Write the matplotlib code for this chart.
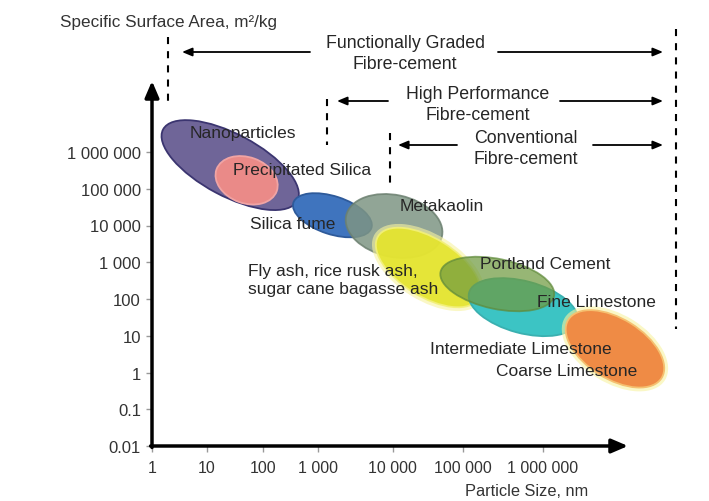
import numpy as np
import matplotlib.pyplot as plt
from matplotlib.patches import Ellipse
from matplotlib.transforms import ScaledTranslation

plt.rcParams['font.family'] = ['Liberation Sans', 'DejaVu Sans']

# axis ticks
x_ticks = [1, 10, 100, 1000, 10000, 100000, 1000000]
x_tick_labels = ['1', '10', '100', '1 000', '10 000', '100 000', '1 000 000']
y_ticks = [0.01, 0.1, 1, 10, 100, 1000, 10000, 100000, 1000000]
y_tick_labels = ['0.01', '0.1', '1', '10', '100', '1 000', '10 000', '100 000', '1 000 000']

# the drawn particle size axis is not evenly spaced per decade
x_decades = [0, 1, 2, 3, 4, 5, 6, 7, 8]
x_axis_pos = [0, 0.99, 2.0, 2.99, 4.34, 5.6, 7.04, 8.58, 10.12]

# materials: centre particle size (nm) and specific surface area (m2/kg)
materials = ['Nanoparticles', 'Precipitated Silica', 'Silica fume', 'Metakaolin',
             'Fly ash', 'Fine Limestone', 'Portland Cement', 'Coarse Limestone']
size_nm = [26, 51, 1560, 10400, 32000, 5.7e5, 2.7e5, 7.0e6]
ssa = [4.4e5, 1.7e5, 1.9e4, 9700, 720, 60, 256, 4.4]

# label texts and where they sit (particle size nm, m2/kg)
labels = ['Nanoparticles', 'Precipitated Silica', 'Silica fume', 'Metakaolin',
          'Fly ash, rice rusk ash,\nsugar cane bagasse ash', 'Portland Cement',
          'Fine Limestone', 'Intermediate Limestone', 'Coarse Limestone']
label_nm = [43, 510, 350, 5.0e4, 55, 1.06e6, 4.3e6, 5.3e5, 1.9e6]
label_ssa = [3.3e6, 3.4e5, 1.1e4, 3.4e4, 330, 900, 83, 4.4, 1.1]

zone_names = ['Functionally Graded\nFibre-cement', 'High Performance\nFibre-cement',
              'Conventional\nFibre-cement']

# ellipse drawing sizes (pixels) and styles
widths = [152, 64, 82, 98, 118, 112, 116, 110]
heights = [62, 46, 38, 62, 58, 52, 50, 60]
angles = [-28, -20, -18, -12, -32, -15, -12, -32]
fills = ['#6f6598', '#ea8a88', '#3f74be', '#7e9584', '#e4e42c', '#3cc4c4', '#6f9a40', '#ef8b45']
alphas = [1, 1, 1, 0.85, 0.92, 1, 0.72, 1]
edges = ['#3b3570', '#f0a4a4', '#2e5a9a', '#6c8070', '#f2f07a', '#3ab0b0', '#5f8a3a', '#f5c070']


def to_u(nm):
    return np.interp(np.log10(nm), x_decades, x_axis_pos)


fig = plt.figure(figsize=(7.09, 5.02), dpi=100)
ax = fig.add_axes([152 / 709, 55 / 502, 476 / 709, 365 / 502])
ax.set_facecolor('none')
ax.set_autoscale_on(False)
ax.set_xlim(0, 476 / 55.5)
ax.set_ylim(-2, -2 + 365 / 36.75)

for i in range(len(materials)):
    trans = fig.dpi_scale_trans + ScaledTranslation(to_u(size_nm[i]), np.log10(ssa[i]), ax.transData)
    if materials[i] in ('Fly ash', 'Coarse Limestone'):
        halo = Ellipse((0, 0), (widths[i] + 8) / 100, (heights[i] + 8) / 100, angle=angles[i],
                       transform=trans, facecolor='#f7f3a0', edgecolor='none', alpha=0.6,
                       zorder=2 + i, clip_on=False)
        ax.add_patch(halo)
    e = Ellipse((0, 0), widths[i] / 100, heights[i] / 100, angle=angles[i], transform=trans,
                facecolor=fills[i], edgecolor=edges[i], lw=1.3, alpha=alphas[i], zorder=2 + i,
                clip_on=False)
    ax.add_patch(e)

for i in range(len(labels)):
    ha = 'left' if labels[i].startswith('Fly') else 'center'
    ax.text(to_u(label_nm[i]), np.log10(label_ssa[i]), labels[i], ha=ha, va='center',
            fontsize=12.5, color='#262626', linespacing=1.25, zorder=20, clip_on=False)

ax.set_xticks(to_u(x_ticks))
ax.set_xticklabels(x_tick_labels)
ax.set_yticks(np.log10(y_ticks))
ax.set_yticklabels(y_tick_labels)
ax.tick_params(axis='x', direction='out', length=4, width=1, color='#999999',
               labelsize=11.5, labelcolor='#333333', pad=6)
ax.tick_params(axis='y', direction='out', length=4, width=1, color='#999999',
               labelsize=12, labelcolor='#333333', pad=4)
for s in ax.spines.values():
    s.set_visible(False)

# axis lines with arrow heads
arrow = dict(arrowstyle='-|>,head_width=0.3,head_length=0.7', lw=2.5, color='black',
             mutation_scale=14, shrinkA=0, shrinkB=0)
ax.annotate('', xy=(1, 0), xytext=(-0.003, 0), xycoords='axes fraction', arrowprops=arrow)
ax.annotate('', xy=(0, 1), xytext=(0, -0.004), xycoords='axes fraction', arrowprops=arrow)

# overlay in pixel coordinates for the zone annotations
ov = fig.add_axes([0, 0, 1, 1])
ov.set_xlim(0, 709)
ov.set_ylim(502, 0)
ov.axis('off')
ov.patch.set_visible(False)

dash = dict(color='black', lw=1.5, linestyle=(0, (3.4, 3.4)))
ov.plot([168, 168], [38, 102], **dash)
ov.plot([327, 327], [100, 146], **dash)
ov.plot([390, 390], [134, 190], **dash)
ov.plot([676, 676], [30, 330], **dash)

small = dict(arrowstyle='-|>,head_width=0.25,head_length=0.6', lw=1.3, color='black',
             mutation_scale=10, shrinkA=0, shrinkB=0)
zone_text = [(405, 54), (478, 105), (526, 149)]
zone_arrows = [((310, 182), (498, 663), 53), ((388, 337), (560, 663), 102), ((457, 398), (593, 663), 146)]
for name, (tx, ty), (left, right, ay) in zip(zone_names, zone_text, zone_arrows):
    ov.text(tx, ty, name, ha='center', va='center', fontsize=12.8, color='#262626', linespacing=1.3)
    ov.annotate('', xy=(left[1], ay), xytext=(left[0], ay), arrowprops=small)
    ov.annotate('', xy=(right[1], ay), xytext=(right[0], ay), arrowprops=small)

fig.text(60 / 709, 1 - 23 / 502, 'Specific Surface Area, m²/kg', ha='left', va='center',
         fontsize=12.3, color='#333333')
fig.text(527 / 709, 1 - 492 / 502, 'Particle Size, nm', ha='center', va='center',
         fontsize=11.8, color='#333333')

fig.savefig('out.png', dpi=100)
